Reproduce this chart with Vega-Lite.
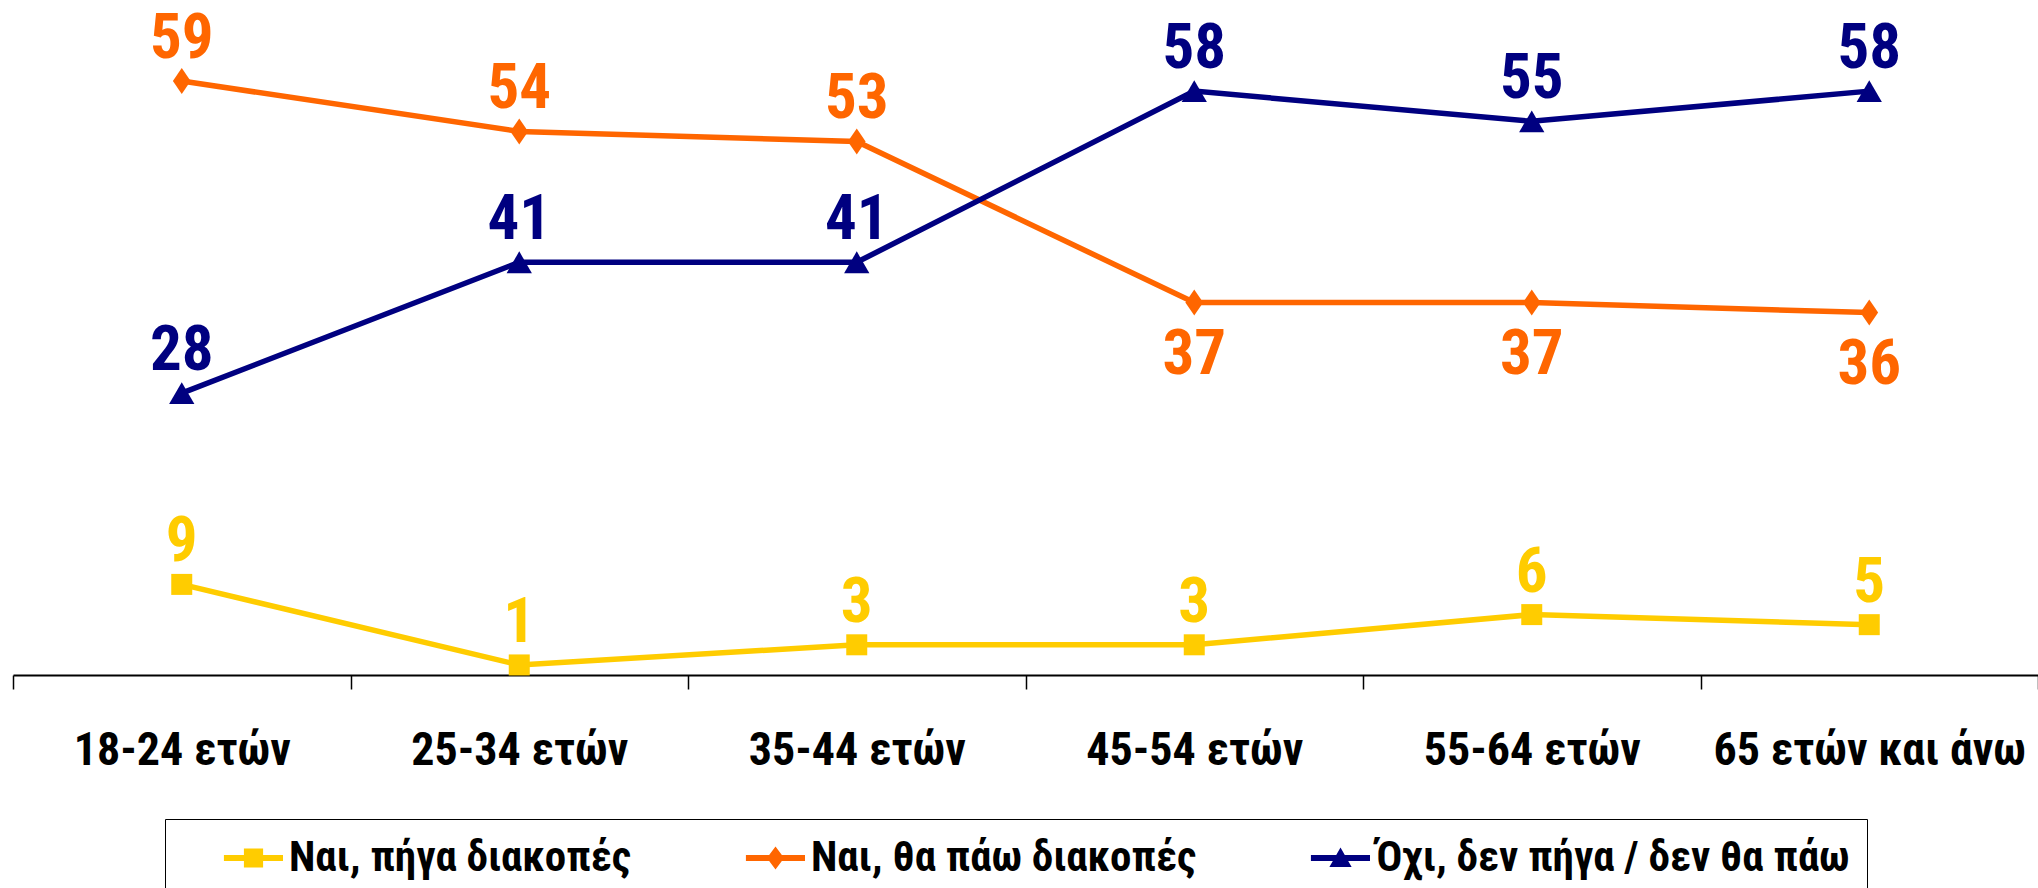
{
  "$schema": "https://vega.github.io/schema/vega-lite/v6.json",
  "width": 2025,
  "height": 604,
  "autosize": {"type": "none"},
  "padding": {"left": 13, "top": 71, "right": 0, "bottom": 213},
  "background": "white",
  "config": {"view": {"stroke": null}, "font": "Roboto Condensed, DejaVu Sans Condensed, Liberation Sans, sans-serif"},
  "data": {
    "values": [
      {"age": "18-24 ετών", "series": "Ναι, πήγα διακοπές", "value": 9},
      {"age": "25-34 ετών", "series": "Ναι, πήγα διακοπές", "value": 1},
      {"age": "35-44 ετών", "series": "Ναι, πήγα διακοπές", "value": 3},
      {"age": "45-54 ετών", "series": "Ναι, πήγα διακοπές", "value": 3},
      {"age": "55-64 ετών", "series": "Ναι, πήγα διακοπές", "value": 6},
      {"age": "65 ετών και άνω", "series": "Ναι, πήγα διακοπές", "value": 5},
      {"age": "18-24 ετών", "series": "Ναι, θα πάω διακοπές", "value": 59},
      {"age": "25-34 ετών", "series": "Ναι, θα πάω διακοπές", "value": 54},
      {"age": "35-44 ετών", "series": "Ναι, θα πάω διακοπές", "value": 53},
      {"age": "45-54 ετών", "series": "Ναι, θα πάω διακοπές", "value": 37},
      {"age": "55-64 ετών", "series": "Ναι, θα πάω διακοπές", "value": 37},
      {"age": "65 ετών και άνω", "series": "Ναι, θα πάω διακοπές", "value": 36},
      {"age": "18-24 ετών", "series": "Όχι, δεν πήγα / δεν θα πάω", "value": 28},
      {"age": "25-34 ετών", "series": "Όχι, δεν πήγα / δεν θα πάω", "value": 41},
      {"age": "35-44 ετών", "series": "Όχι, δεν πήγα / δεν θα πάω", "value": 41},
      {"age": "45-54 ετών", "series": "Όχι, δεν πήγα / δεν θα πάω", "value": 58},
      {"age": "55-64 ετών", "series": "Όχι, δεν πήγα / δεν θα πάω", "value": 55},
      {"age": "65 ετών και άνω", "series": "Όχι, δεν πήγα / δεν θα πάω", "value": 58}
    ]
  },
  "encoding": {
    "x": {
      "field": "age",
      "type": "nominal",
      "sort": ["18-24 ετών", "25-34 ετών", "35-44 ετών", "45-54 ετών", "55-64 ετών", "65 ετών και άνω"],
      "scale": {"type": "band", "paddingInner": 0, "paddingOuter": 0},
      "axis": {
        "title": null,
        "labelAngle": 0,
        "labelFont": "Roboto Condensed, DejaVu Sans Condensed, Liberation Sans, sans-serif",
        "labelFontSize": 46,
        "labelFontWeight": "bold",
        "labelColor": "black",
        "labelPadding": 61,
        "labelBaseline": "middle",
        "labelLimit": 1000,
        "labelOverlap": false,
        "labelBound": false,
        "labelFlush": false,
        "domainColor": "black",
        "domainWidth": 2,
        "tickColor": "black",
        "tickWidth": 1.5,
        "tickSize": 14,
        "tickBand": "extent"
      }
    },
    "y": {
      "field": "value",
      "type": "quantitative",
      "scale": {"domain": [0, 60], "nice": false},
      "axis": null
    },
    "color": {
      "field": "series",
      "type": "nominal",
      "scale": {
        "domain": ["Ναι, πήγα διακοπές", "Ναι, θα πάω διακοπές", "Όχι, δεν πήγα / δεν θα πάω"],
        "range": ["#FFCC00", "#FF6600", "#000080"]
      },
      "legend": null
    }
  },
  "layer": [
    {
      "mark": {"type": "point", "filled": true, "opacity": 0},
      "encoding": {
        "color": {
          "field": "series",
          "type": "nominal",
          "legend": {
            "title": null,
            "orient": "none",
            "legendX": 152,
            "legendY": 748,
            "direction": "horizontal",
            "padding": 17,
            "clipHeight": 44,
            "symbolSize": 10201,
            "symbolStrokeWidth": 0,
            "symbolOpacity": 1,
            "labelFont": "Roboto Condensed, DejaVu Sans Condensed, Liberation Sans, sans-serif",
            "labelFontSize": 43,
            "labelFontWeight": "bold",
            "labelColor": "black",
            "labelOffset": 6,
            "labelLimit": 1000,
            "columnPadding": 72,
            "strokeColor": "black",
            "fillColor": "white"
          }
        },
        "shape": {
          "field": "series",
          "type": "nominal",
          "scale": {
            "domain": ["Ναι, πήγα διακοπές", "Ναι, θα πάω διακοπές", "Όχι, δεν πήγα / δεν θα πάω"],
            "range": [
              "M-0.17,-0.06H1V0.06H-0.17Z M0.226,-0.19H0.606V0.19H0.226Z",
              "M-0.17,-0.06H1V0.06H-0.17Z M0.416,-0.23L0.586,0L0.416,0.23L0.246,0Z",
              "M-0.17,-0.06H1V0.06H-0.17Z M0.416,-0.21L0.636,0.18L0.196,0.18Z"
            ]
          },
          "legend": {
            "title": null,
            "orient": "none",
            "legendX": 152,
            "legendY": 748,
            "direction": "horizontal",
            "padding": 17,
            "clipHeight": 44,
            "symbolSize": 10201,
            "symbolStrokeWidth": 0,
            "symbolOpacity": 1,
            "labelFont": "Roboto Condensed, DejaVu Sans Condensed, Liberation Sans, sans-serif",
            "labelFontSize": 43,
            "labelFontWeight": "bold",
            "labelColor": "black",
            "labelOffset": 6,
            "labelLimit": 1000,
            "columnPadding": 72,
            "strokeColor": "black",
            "fillColor": "white"
          }
        }
      }
    },
    {"mark": {"type": "line", "strokeWidth": 5.5}},
    {
      "transform": [{"filter": "datum.series === 'Ναι, πήγα διακοπές'"}],
      "mark": {"type": "point", "shape": "square", "filled": true, "opacity": 1, "size": 441}
    },
    {
      "transform": [{"filter": "datum.series === 'Ναι, θα πάω διακοπές'"}],
      "mark": {"type": "point", "shape": "M0,-1.1L0.75,0L0,1.1L-0.75,0Z", "filled": true, "opacity": 1, "size": 560}
    },
    {
      "transform": [{"filter": "datum.series === 'Όχι, δεν πήγα / δεν θα πάω'"}],
      "mark": {"type": "point", "shape": "triangle-up", "filled": true, "opacity": 1, "size": 640}
    },
    {
      "transform": [{"filter": "!(datum.series === 'Ναι, θα πάω διακοπές' && datum.value < 40)"}],
      "mark": {"type": "text", "dy": -42, "fontSize": 63, "fontWeight": "bold", "font": "Roboto Condensed, DejaVu Sans Condensed, Liberation Sans, sans-serif", "baseline": "middle"},
      "encoding": {"text": {"field": "value", "type": "quantitative"}}
    },
    {
      "transform": [{"filter": "datum.series === 'Ναι, θα πάω διακοπές' && datum.value < 40"}],
      "mark": {"type": "text", "dy": 52, "fontSize": 63, "fontWeight": "bold", "font": "Roboto Condensed, DejaVu Sans Condensed, Liberation Sans, sans-serif", "baseline": "middle"},
      "encoding": {"text": {"field": "value", "type": "quantitative"}}
    }
  ]
}
